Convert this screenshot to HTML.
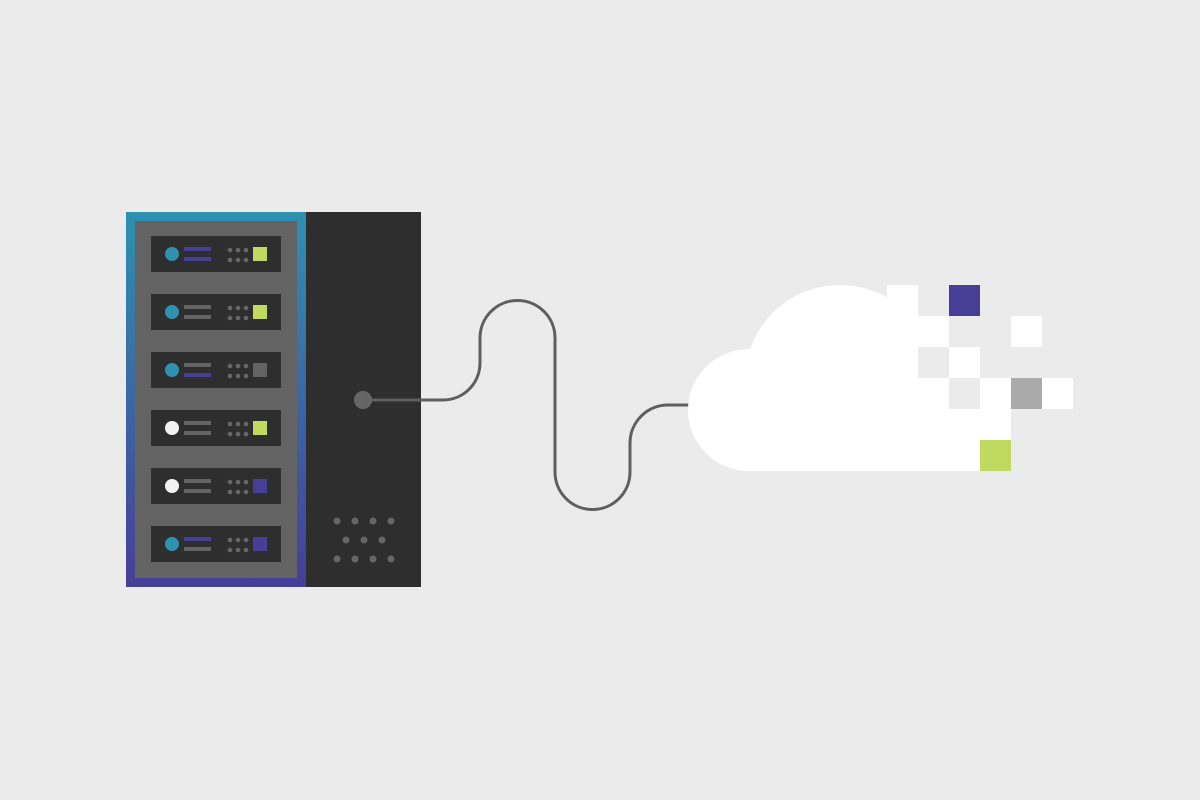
<!DOCTYPE html>
<html><head><meta charset="utf-8"><style>html,body{margin:0;padding:0;background:#ebebeb}svg{display:block}</style></head>
<body>
<svg width="1200" height="800" viewBox="0 0 1200 800" xmlns="http://www.w3.org/2000/svg">
<defs>
<linearGradient id="g" x1="0" y1="0" x2="0" y2="1"><stop offset="0" stop-color="#2e91b0"/><stop offset="1" stop-color="#473e97"/></linearGradient>
<clipPath id="c"><rect x="600" y="200" width="318" height="271"/></clipPath>
</defs>
<rect width="1200" height="800" fill="#ebebeb"/>
<rect x="126" y="212" width="180" height="375" fill="url(#g)"/>
<rect x="135" y="221" width="162" height="357" fill="#636363"/>
<rect x="306" y="212" width="115" height="375" fill="#2e2e2e"/>
<g>
<rect x="151" y="236" width="130" height="36" fill="#2e2e2e"/><circle cx="172" cy="254" r="7" fill="#2e91b0"/><rect x="184" y="247" width="27" height="4" fill="#473e97"/><rect x="184" y="257" width="27" height="4" fill="#473e97"/><rect x="253" y="247" width="14" height="14" fill="#c0d95f"/>
<rect x="151" y="294" width="130" height="36" fill="#2e2e2e"/><circle cx="172" cy="312" r="7" fill="#2e91b0"/><rect x="184" y="305" width="27" height="4" fill="#636363"/><rect x="184" y="315" width="27" height="4" fill="#636363"/><rect x="253" y="305" width="14" height="14" fill="#c0d95f"/>
<rect x="151" y="352" width="130" height="36" fill="#2e2e2e"/><circle cx="172" cy="370" r="7" fill="#2e91b0"/><rect x="184" y="363" width="27" height="4" fill="#636363"/><rect x="184" y="373" width="27" height="4" fill="#473e97"/><rect x="253" y="363" width="14" height="14" fill="#636363"/>
<rect x="151" y="410" width="130" height="36" fill="#2e2e2e"/><circle cx="172" cy="428" r="7" fill="#f2f2f2"/><rect x="184" y="421" width="27" height="4" fill="#636363"/><rect x="184" y="431" width="27" height="4" fill="#636363"/><rect x="253" y="421" width="14" height="14" fill="#c0d95f"/>
<rect x="151" y="468" width="130" height="36" fill="#2e2e2e"/><circle cx="172" cy="486" r="7" fill="#f2f2f2"/><rect x="184" y="479" width="27" height="4" fill="#636363"/><rect x="184" y="489" width="27" height="4" fill="#636363"/><rect x="253" y="479" width="14" height="14" fill="#473e97"/>
<rect x="151" y="526" width="130" height="36" fill="#2e2e2e"/><circle cx="172" cy="544" r="7" fill="#2e91b0"/><rect x="184" y="537" width="27" height="4" fill="#473e97"/><rect x="184" y="547" width="27" height="4" fill="#636363"/><rect x="253" y="537" width="14" height="14" fill="#473e97"/>
</g>
<g fill="#666">
<circle cx="230" cy="250" r="2.3"/><circle cx="238" cy="250" r="2.3"/><circle cx="246" cy="250" r="2.3"/><circle cx="230" cy="260" r="2.3"/><circle cx="238" cy="260" r="2.3"/><circle cx="246" cy="260" r="2.3"/>
<circle cx="230" cy="308" r="2.3"/><circle cx="238" cy="308" r="2.3"/><circle cx="246" cy="308" r="2.3"/><circle cx="230" cy="318" r="2.3"/><circle cx="238" cy="318" r="2.3"/><circle cx="246" cy="318" r="2.3"/>
<circle cx="230" cy="366" r="2.3"/><circle cx="238" cy="366" r="2.3"/><circle cx="246" cy="366" r="2.3"/><circle cx="230" cy="376" r="2.3"/><circle cx="238" cy="376" r="2.3"/><circle cx="246" cy="376" r="2.3"/>
<circle cx="230" cy="424" r="2.3"/><circle cx="238" cy="424" r="2.3"/><circle cx="246" cy="424" r="2.3"/><circle cx="230" cy="434" r="2.3"/><circle cx="238" cy="434" r="2.3"/><circle cx="246" cy="434" r="2.3"/>
<circle cx="230" cy="482" r="2.3"/><circle cx="238" cy="482" r="2.3"/><circle cx="246" cy="482" r="2.3"/><circle cx="230" cy="492" r="2.3"/><circle cx="238" cy="492" r="2.3"/><circle cx="246" cy="492" r="2.3"/>
<circle cx="230" cy="540" r="2.3"/><circle cx="238" cy="540" r="2.3"/><circle cx="246" cy="540" r="2.3"/><circle cx="230" cy="550" r="2.3"/><circle cx="238" cy="550" r="2.3"/><circle cx="246" cy="550" r="2.3"/>
<circle cx="337" cy="521" r="3.5"/><circle cx="355" cy="521" r="3.5"/><circle cx="373" cy="521" r="3.5"/><circle cx="391" cy="521" r="3.5"/>
<circle cx="346" cy="540" r="3.5"/><circle cx="364" cy="540" r="3.5"/><circle cx="382" cy="540" r="3.5"/>
<circle cx="337" cy="559" r="3.5"/><circle cx="355" cy="559" r="3.5"/><circle cx="373" cy="559" r="3.5"/><circle cx="391" cy="559" r="3.5"/>
</g>
<path d="M363 400 H443 A37 37 0 0 0 480 363 V338 A37.5 37.5 0 0 1 555 338 V472 A37.5 37.5 0 0 0 630 472 V443 A38 38 0 0 1 668 405 H692" fill="none" stroke="#5f5f5f" stroke-width="3"/>
<circle cx="363" cy="400" r="9" fill="#666"/>
<g fill="#fff">
<g clip-path="url(#c)"><circle cx="840" cy="380" r="95"/></g>
<rect x="749" y="380" width="170" height="91"/>
<rect x="887" y="316" width="31" height="70"/>
<circle cx="749" cy="410" r="61"/>
<rect x="887" y="285" width="31" height="31"/>
<rect x="918" y="316" width="31" height="31"/>
<rect x="1011" y="316" width="31" height="31"/>
<rect x="949" y="347" width="31" height="31"/>
<rect x="918" y="378" width="31" height="31"/>
<rect x="980" y="378" width="31" height="31"/>
<rect x="1042" y="378" width="31" height="31"/>
<rect x="918" y="409" width="93" height="31"/>
<rect x="918" y="440" width="62" height="31"/>
</g>
<rect x="949" y="285" width="31" height="31" fill="#473e97"/>
<rect x="1011" y="378" width="31" height="31" fill="#aaaaaa"/>
<rect x="980" y="440" width="31" height="31" fill="#c0d95f"/>
</svg>
</body></html>
